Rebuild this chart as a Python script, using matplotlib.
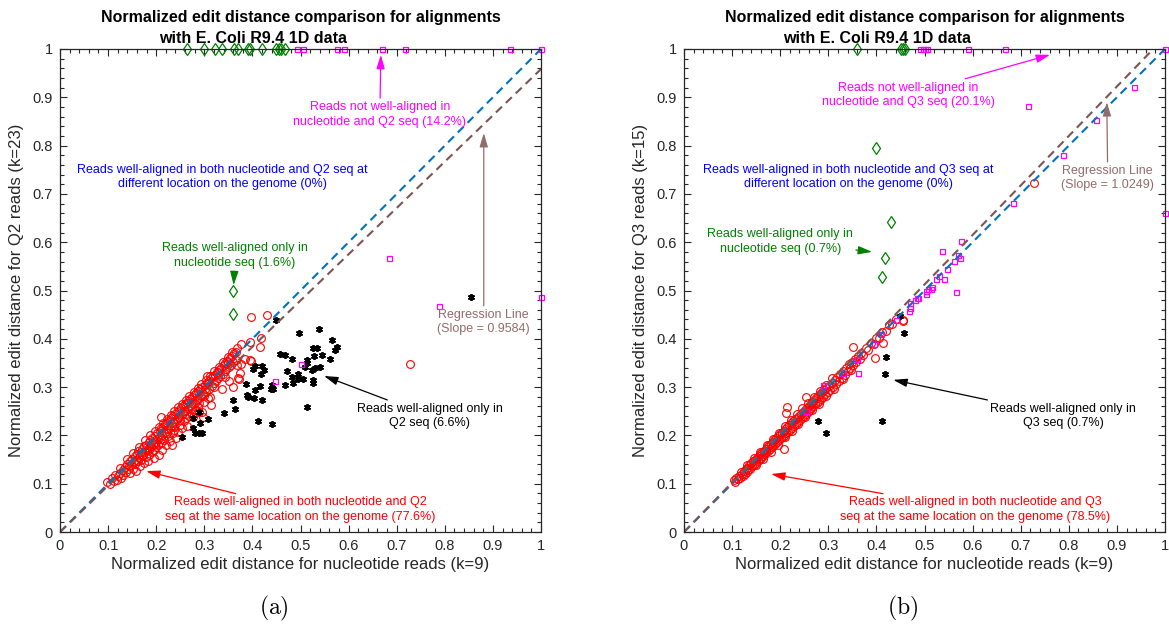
import numpy as np
import matplotlib as mpl
mpl.use('Agg')
import matplotlib.pyplot as plt
from matplotlib.ticker import MultipleLocator

plt.rcParams['font.family'] = ['Liberation Sans', 'DejaVu Sans']
plt.rcParams['mathtext.fontset'] = 'cm'

# ---------------- panel (a): nucleotide vs Q2 ----------------
a_red = [
    (0.097, 0.103), (0.103, 0.100), (0.108, 0.112), (0.112, 0.106), (0.118, 0.108), (0.115, 0.118),
    (0.121, 0.115), (0.124, 0.122), (0.127, 0.112), (0.130, 0.128), (0.132, 0.119), (0.135, 0.134),
    (0.137, 0.125), (0.139, 0.141), (0.141, 0.130), (0.143, 0.137), (0.145, 0.148), (0.146, 0.123),
    (0.148, 0.139), (0.150, 0.152), (0.151, 0.131), (0.153, 0.145), (0.155, 0.158), (0.156, 0.140),
    (0.158, 0.126), (0.159, 0.150), (0.160, 0.162), (0.162, 0.146), (0.163, 0.168), (0.165, 0.155),
    (0.166, 0.137), (0.168, 0.165), (0.169, 0.150), (0.171, 0.172), (0.172, 0.160), (0.174, 0.143),
    (0.175, 0.178), (0.176, 0.166), (0.178, 0.155), (0.179, 0.181), (0.181, 0.170), (0.182, 0.148),
    (0.184, 0.186), (0.185, 0.174), (0.186, 0.160), (0.188, 0.190), (0.189, 0.178), (0.191, 0.165),
    (0.192, 0.195), (0.193, 0.182), (0.195, 0.170), (0.196, 0.153), (0.198, 0.199), (0.199, 0.187),
    (0.200, 0.175), (0.202, 0.205), (0.203, 0.192), (0.204, 0.180), (0.206, 0.160), (0.207, 0.210),
    (0.208, 0.196), (0.209, 0.185), (0.211, 0.239), (0.211, 0.215), (0.212, 0.200), (0.213, 0.170),
    (0.215, 0.218), (0.216, 0.205), (0.217, 0.190), (0.219, 0.223), (0.220, 0.208), (0.221, 0.180),
    (0.223, 0.226), (0.224, 0.213), (0.225, 0.198), (0.227, 0.231), (0.228, 0.216), (0.229, 0.188),
    (0.231, 0.235), (0.232, 0.220), (0.232, 0.180), (0.234, 0.205), (0.235, 0.240), (0.236, 0.225),
    (0.238, 0.212), (0.239, 0.244), (0.240, 0.229), (0.242, 0.195), (0.243, 0.248), (0.244, 0.233),
    (0.246, 0.208), (0.247, 0.252), (0.248, 0.238), (0.250, 0.222), (0.251, 0.256), (0.252, 0.242),
    (0.254, 0.215), (0.255, 0.260), (0.256, 0.246), (0.258, 0.230), (0.259, 0.264), (0.260, 0.250),
    (0.262, 0.236), (0.263, 0.268), (0.264, 0.220), (0.266, 0.255), (0.267, 0.272), (0.268, 0.241),
    (0.270, 0.276), (0.271, 0.260), (0.273, 0.247), (0.274, 0.280), (0.276, 0.264), (0.277, 0.239),
    (0.279, 0.284), (0.280, 0.268), (0.281, 0.252), (0.283, 0.288), (0.284, 0.273), (0.286, 0.258),
    (0.287, 0.292), (0.289, 0.277), (0.290, 0.249), (0.292, 0.296), (0.293, 0.282), (0.295, 0.249),
    (0.296, 0.300), (0.298, 0.239), (0.298, 0.286), (0.300, 0.270), (0.301, 0.305), (0.301, 0.296),
    (0.303, 0.290), (0.305, 0.309), (0.305, 0.322), (0.307, 0.278), (0.309, 0.313), (0.310, 0.297),
    (0.312, 0.280), (0.313, 0.263), (0.314, 0.318), (0.316, 0.302), (0.318, 0.322), (0.320, 0.308),
    (0.322, 0.326), (0.324, 0.313), (0.326, 0.331), (0.328, 0.318), (0.329, 0.331), (0.331, 0.336),
    (0.333, 0.322), (0.335, 0.340), (0.336, 0.296), (0.338, 0.328), (0.340, 0.345), (0.342, 0.333),
    (0.344, 0.350), (0.346, 0.337), (0.348, 0.355), (0.350, 0.351), (0.351, 0.341), (0.352, 0.313),
    (0.354, 0.360), (0.356, 0.346), (0.358, 0.365), (0.359, 0.300), (0.360, 0.351), (0.362, 0.370),
    (0.365, 0.372), (0.366, 0.356), (0.371, 0.318), (0.373, 0.317), (0.374, 0.330), (0.376, 0.347),
    (0.385, 0.358), (0.396, 0.393), (0.396, 0.356), (0.398, 0.446), (0.398, 0.355), (0.416, 0.382),
    (0.418, 0.402), (0.431, 0.449), (0.727, 0.347),
    (0.125, 0.132), (0.140, 0.152), (0.152, 0.164), (0.164, 0.176), (0.177, 0.190), (0.187, 0.200),
    (0.197, 0.210), (0.205, 0.218), (0.214, 0.226), (0.222, 0.234), (0.230, 0.243), (0.237, 0.250),
    (0.245, 0.258), (0.253, 0.265), (0.261, 0.273), (0.269, 0.281), (0.278, 0.290), (0.286, 0.298),
    (0.294, 0.307), (0.303, 0.315), (0.311, 0.324), (0.320, 0.333), (0.330, 0.342), (0.339, 0.352),
    (0.349, 0.362), (0.358, 0.372), (0.368, 0.381), (0.377, 0.389), (0.170, 0.158), (0.184, 0.170),
    (0.197, 0.183), (0.210, 0.193), (0.223, 0.206), (0.236, 0.218), (0.249, 0.231), (0.262, 0.244),
    (0.275, 0.256), (0.288, 0.268), (0.300, 0.282), (0.321, 0.300), (0.343, 0.320), (0.367, 0.345),
]
a_black = [
    (0.449, 0.439), (0.497, 0.413), (0.538, 0.420), (0.565, 0.398), (0.572, 0.377), (0.575, 0.382),
    (0.525, 0.381), (0.535, 0.380), (0.457, 0.369), (0.468, 0.366), (0.482, 0.359), (0.513, 0.356),
    (0.514, 0.349), (0.528, 0.364), (0.545, 0.366), (0.561, 0.359), (0.541, 0.342), (0.530, 0.339),
    (0.509, 0.342), (0.523, 0.335), (0.471, 0.334), (0.494, 0.327), (0.506, 0.317), (0.482, 0.320),
    (0.495, 0.316), (0.485, 0.309), (0.527, 0.315), (0.525, 0.309), (0.468, 0.305), (0.440, 0.304),
    (0.442, 0.297), (0.405, 0.344), (0.419, 0.344), (0.424, 0.335), (0.417, 0.327), (0.387, 0.306),
    (0.416, 0.302), (0.405, 0.294), (0.389, 0.284), (0.390, 0.279), (0.403, 0.277), (0.420, 0.273),
    (0.513, 0.258), (0.412, 0.230), (0.441, 0.223), (0.340, 0.247), (0.364, 0.254), (0.360, 0.273),
    (0.277, 0.215), (0.281, 0.204), (0.288, 0.204), (0.295, 0.204), (0.308, 0.233), (0.292, 0.226),
    (0.290, 0.249), (0.253, 0.196), (0.277, 0.235), (0.438, 0.297), (0.402, 0.337), (0.854, 0.487),
]
a_green = [
    (0.264, 1.0), (0.299, 1.0), (0.323, 1.0), (0.336, 1.0), (0.361, 1.0), (0.371, 1.0), (0.391, 1.0),
    (0.394, 1.0), (0.419, 1.0), (0.450, 1.0), (0.455, 1.0), (0.460, 1.0), (0.467, 1.0),
    (0.360, 0.499), (0.360, 0.451),
]
a_magenta = [
    (0.492, 1.0), (0.506, 1.0), (0.575, 1.0), (0.590, 1.0), (0.669, 1.0), (0.717, 1.0), (0.936, 1.0),
    (1.0, 1.0), (0.788, 0.467), (1.0, 0.486), (0.685, 0.567), (0.501, 0.347), (0.446, 0.313),
]
a_slope = 0.9584

# ---------------- panel (b): nucleotide vs Q3 ----------------
b_red = [
    (0.103, 0.108), (0.106, 0.104), (0.109, 0.112), (0.112, 0.109), (0.115, 0.116), (0.117, 0.112),
    (0.120, 0.121), (0.122, 0.116), (0.124, 0.126), (0.126, 0.120), (0.128, 0.130), (0.130, 0.124),
    (0.132, 0.133), (0.134, 0.128), (0.136, 0.138), (0.138, 0.131), (0.140, 0.142), (0.142, 0.136),
    (0.144, 0.146), (0.146, 0.139), (0.148, 0.150), (0.150, 0.143), (0.152, 0.154), (0.153, 0.147),
    (0.155, 0.158), (0.157, 0.151), (0.159, 0.161), (0.160, 0.154), (0.162, 0.165), (0.164, 0.158),
    (0.166, 0.168), (0.168, 0.161), (0.170, 0.172), (0.171, 0.165), (0.173, 0.176), (0.175, 0.168),
    (0.177, 0.180), (0.179, 0.171), (0.181, 0.183), (0.183, 0.175), (0.185, 0.187), (0.186, 0.179),
    (0.188, 0.191), (0.190, 0.182), (0.192, 0.195), (0.194, 0.186), (0.196, 0.198), (0.198, 0.190),
    (0.200, 0.202), (0.202, 0.194), (0.204, 0.206), (0.205, 0.197), (0.207, 0.210), (0.208, 0.171),
    (0.209, 0.201), (0.211, 0.214), (0.213, 0.205), (0.213, 0.247), (0.215, 0.259), (0.215, 0.218),
    (0.217, 0.208), (0.219, 0.222), (0.221, 0.212), (0.223, 0.226), (0.225, 0.216), (0.227, 0.230),
    (0.229, 0.220), (0.231, 0.233), (0.233, 0.224), (0.235, 0.237), (0.237, 0.228), (0.239, 0.241),
    (0.241, 0.232), (0.243, 0.245), (0.245, 0.236), (0.247, 0.249), (0.249, 0.240), (0.251, 0.253),
    (0.253, 0.244), (0.254, 0.279), (0.255, 0.257), (0.257, 0.248), (0.259, 0.261), (0.261, 0.252),
    (0.263, 0.265), (0.265, 0.256), (0.267, 0.269), (0.269, 0.260), (0.271, 0.273), (0.273, 0.264),
    (0.275, 0.277), (0.277, 0.268), (0.279, 0.281), (0.281, 0.272), (0.283, 0.285), (0.285, 0.276),
    (0.287, 0.289), (0.290, 0.280), (0.292, 0.293), (0.294, 0.285), (0.296, 0.298), (0.299, 0.290),
    (0.301, 0.303), (0.304, 0.295), (0.307, 0.309), (0.310, 0.300), (0.313, 0.315), (0.316, 0.306),
    (0.319, 0.321), (0.322, 0.313), (0.325, 0.328), (0.328, 0.319), (0.331, 0.334), (0.334, 0.326),
    (0.337, 0.340), (0.340, 0.333), (0.343, 0.347), (0.346, 0.339), (0.349, 0.353), (0.351, 0.382),
    (0.352, 0.345), (0.355, 0.359), (0.358, 0.351), (0.361, 0.364), (0.365, 0.358), (0.369, 0.371),
    (0.373, 0.366), (0.378, 0.380), (0.383, 0.377), (0.388, 0.391), (0.394, 0.389), (0.397, 0.360),
    (0.400, 0.402), (0.406, 0.401), (0.412, 0.414), (0.414, 0.391), (0.419, 0.416), (0.426, 0.428),
    (0.433, 0.430), (0.441, 0.442), (0.455, 0.439), (0.456, 0.437), (0.727, 0.723),
    (0.118, 0.125), (0.131, 0.139), (0.145, 0.153), (0.158, 0.166), (0.172, 0.181), (0.184, 0.193),
    (0.197, 0.206), (0.210, 0.220), (0.222, 0.232), (0.234, 0.244), (0.246, 0.256), (0.258, 0.268),
    (0.270, 0.280), (0.282, 0.292), (0.295, 0.305), (0.308, 0.318), (0.150, 0.138), (0.165, 0.152),
    (0.180, 0.166), (0.195, 0.181), (0.210, 0.196), (0.224, 0.210), (0.238, 0.224), (0.252, 0.238),
    (0.266, 0.252), (0.280, 0.266), (0.296, 0.282), (0.312, 0.297), (0.330, 0.317), (0.348, 0.336),
]
b_black = [
    (0.449, 0.447), (0.458, 0.411), (0.420, 0.363), (0.417, 0.327), (0.278, 0.230), (0.295, 0.206),
    (0.412, 0.230),
]
b_green = [
    (0.360, 1.0), (0.451, 1.0), (0.455, 1.0), (0.460, 1.0),
    (0.399, 0.795), (0.430, 0.642), (0.418, 0.568), (0.412, 0.527),
]
b_magenta = [
    (0.491, 1.0), (0.496, 1.0), (0.501, 1.0), (0.506, 1.0), (0.590, 1.0), (0.668, 1.0), (1.0, 1.0),
    (0.936, 0.922), (0.715, 0.883), (0.856, 0.853), (0.787, 0.781), (1.0, 0.660), (0.685, 0.682),
    (0.575, 0.602), (0.537, 0.581), (0.570, 0.574), (0.561, 0.562), (0.573, 0.567), (0.546, 0.545),
    (0.530, 0.531), (0.524, 0.524), (0.541, 0.523), (0.565, 0.496), (0.515, 0.508), (0.508, 0.503),
    (0.514, 0.503), (0.504, 0.498), (0.503, 0.492), (0.487, 0.485), (0.484, 0.484), (0.480, 0.480),
    (0.470, 0.475), (0.469, 0.463), (0.467, 0.458), (0.441, 0.439), (0.410, 0.410), (0.394, 0.389),
    (0.362, 0.330), (0.360, 0.358), (0.330, 0.330), (0.290, 0.304), (0.254, 0.251),
]
b_slope = 1.0249

ticks = [0, 0.1, 0.2, 0.3, 0.4, 0.5, 0.6, 0.7, 0.8, 0.9, 1]
tick_labels = ['0', '0.1', '0.2', '0.3', '0.4', '0.5', '0.6', '0.7', '0.8', '0.9', '1']

RED = (1, 0, 0)
GREEN = (0, 0.5, 0)
MAGENTA = (1, 0, 1)
BLUE_TXT = (0, 0, 1)
LINE_BLUE = (0, 0.447, 0.741)
BROWN = (0.49, 0.33, 0.33)
BROWN_TXT = (0.58, 0.42, 0.42)
AX_COL = '#262626'


def scatter_all(ax, red, black, green, magenta):
    for pts, kw in [
        (red, dict(marker='o', ms=5.6, mfc='none', mec=RED, mew=0.8)),
        (black, dict(marker=(6, 2, 0), ms=5, mfc='k', mec='k', mew=1.3)),
        (green, dict(marker='d', ms=6.5, mfc='none', mec=GREEN, mew=0.9)),
        (magenta, dict(marker='s', ms=3.6, mfc='none', mec=MAGENTA, mew=0.9)),
    ]:
        xs = [p[0] for p in pts]
        ys = [p[1] for p in pts]
        ax.plot(xs, ys, linestyle='none', clip_on=False, **kw)


def style_axes(ax, ylabel):
    ax.set_xlim(0, 1)
    ax.set_ylim(0, 1)
    ax.set_xticks(ticks, tick_labels)
    ax.set_yticks(ticks, tick_labels)
    ax.xaxis.set_minor_locator(MultipleLocator(0.02))
    ax.yaxis.set_minor_locator(MultipleLocator(0.02))
    ax.tick_params(which='both', direction='in', top=True, right=True, colors=AX_COL,
                   labelsize=10.5, width=0.8)
    ax.tick_params(which='major', length=5, pad=5)
    ax.tick_params(which='minor', length=2.6)
    for s in ax.spines.values():
        s.set_color(AX_COL)
        s.set_linewidth(0.9)
    ax.set_xlabel('Normalized edit distance for nucleotide reads (k=9)', fontsize=12, color=AX_COL,
                  labelpad=3)
    ax.set_ylabel(ylabel, fontsize=12, color=AX_COL, labelpad=6)


def note(ax, text, color, xy_text, xy_arrow=None):
    if xy_arrow is None:
        ax.text(xy_text[0], xy_text[1], text, color=color, fontsize=9, ha='center', va='center',
                linespacing=1.3)
    else:
        ax.annotate(text, xy=xy_arrow, xytext=xy_text, color=color, fontsize=9, ha='center',
                    va='center', linespacing=1.3,
                    arrowprops=dict(arrowstyle='-|>,head_length=0.6,head_width=0.18',
                                    color=color, lw=0.9, shrinkA=0, shrinkB=0,
                                    mutation_scale=14))


def title_lines(ax, xc2):
    ax.text(0.5, 1.066, 'Normalized edit distance comparison for alignments', transform=ax.transAxes,
            ha='center', va='center', fontsize=11.5, fontweight='bold', color='k')
    ax.text(xc2, 1.022, 'with E. Coli R9.4 1D data', transform=ax.transAxes,
            ha='center', va='center', fontsize=11.5, fontweight='bold', color='k')


fig = plt.figure(figsize=(11.69, 6.36), dpi=100)
axa = fig.add_axes([60 / 1169, 104 / 636, 481 / 1169, 483 / 636])
axb = fig.add_axes([684 / 1169, 104 / 636, 481 / 1169, 483 / 636])

# panel (a)
scatter_all(axa, a_red, a_black, a_green, a_magenta)
axa.plot([0, 1], [0, 1], '--', color=LINE_BLUE, lw=1.5, dashes=(4, 2.6))
axa.plot([0, 1], [0, a_slope], '--', color=BROWN, lw=1.5, dashes=(4, 2.6))
style_axes(axa, 'Normalized edit distance for Q2 reads (k=23)')
title_lines(axa, 0.401)
note(axa, 'Reads not well-aligned in\nnucleotide and Q2 seq (14.2%)', MAGENTA, (0.665, 0.865),
     (0.667, 0.988))
note(axa, 'Reads well-aligned in both nucleotide and Q2 seq at\ndifferent location on the genome (0%)',
     BLUE_TXT, (0.337, 0.735))
note(axa, 'Reads well-aligned only in\nnucleotide seq (1.6%)', GREEN, (0.364, 0.573), (0.361, 0.511))
note(axa, 'Regression Line\n(Slope = %.4f)' % a_slope, BROWN_TXT, (0.881, 0.435), (0.881, 0.826))
note(axa, 'Reads well-aligned only in\nQ2 seq (6.6%)', 'k', (0.769, 0.240), (0.549, 0.323))
note(axa, 'Reads well-aligned in both nucleotide and Q2\nseq at the same location on the genome (77.6%)',
     RED, (0.499, 0.046), (0.179, 0.126))

# panel (b)
scatter_all(axb, b_red, b_black, b_green, b_magenta)
axb.plot([0, 1], [0, 1], '--', color=LINE_BLUE, lw=1.5, dashes=(4, 2.6))
axb.plot([0, 1 / b_slope], [0, 1], '--', color=BROWN, lw=1.5, dashes=(4, 2.6))
style_axes(axb, 'Normalized edit distance for Q3 reads (k=15)')
title_lines(axb, 0.401)
note(axb, 'Reads not well-aligned in\nnucleotide and Q3 seq (20.1%)', MAGENTA, (0.466, 0.905),
     (0.761, 0.988))
note(axb, 'Reads well-aligned in both nucleotide and Q3 seq at\ndifferent location on the genome (0%)',
     BLUE_TXT, (0.341, 0.735))
note(axb, 'Reads well-aligned only in\nnucleotide seq (0.7%)', GREEN, (0.200, 0.602), (0.391, 0.580))
note(axb, 'Regression Line\n(Slope = %.4f)' % b_slope, BROWN_TXT, (0.881, 0.733), (0.879, 0.890))
note(axb, 'Reads well-aligned only in\nQ3 seq (0.7%)', 'k', (0.788, 0.240), (0.435, 0.315))
note(axb, 'Reads well-aligned in both nucleotide and Q3\nseq at the same location on the genome (78.5%)',
     RED, (0.605, 0.046), (0.181, 0.120))

# sub-figure captions
fig.text(274 / 1169, 1 - 608 / 636, r'$\mathrm{(a)}$', ha='center', va='center', fontsize=17)
fig.text(903 / 1169, 1 - 608 / 636, r'$\mathrm{(b)}$', ha='center', va='center', fontsize=17)

fig.savefig('out.png', dpi=100, facecolor='white')
